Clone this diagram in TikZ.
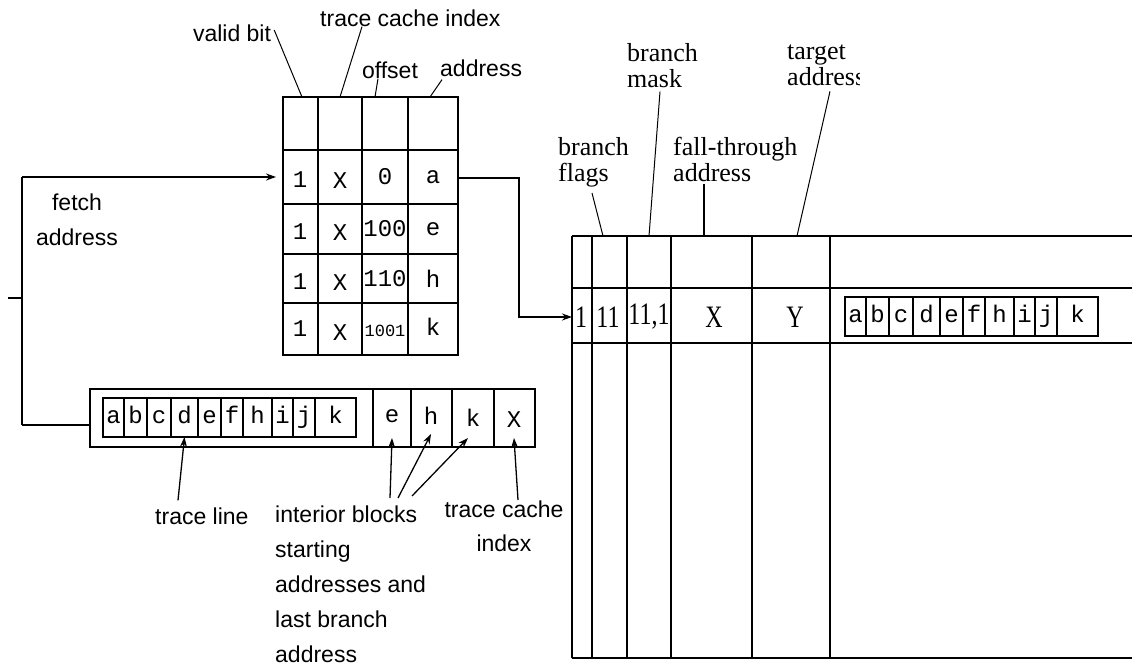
\documentclass[tikz,border=0pt]{standalone}
\usepackage{fontspec}
\setmainfont{Liberation Serif}
\setsansfont{Liberation Sans}
\setmonofont{Liberation Mono}
\usetikzlibrary{arrows.meta,positioning,calc}

\tikzset{
  tab/.style={line width=1.8pt},
  conn/.style={line width=1.3pt},
  leader/.style={line width=1pt},
  tlcell/.style={draw, line width=1.2pt, inner sep=0pt, outer sep=0pt, minimum height=39pt,
    font=\ttfamily\fontsize{24}{24}\selectfont, text height=15pt, text depth=4pt},
  cell/.style={font=\ttfamily\fontsize{24}{24}\selectfont, inner sep=0pt},
  num/.style={font=\rmfamily\fontsize{24}{24}\selectfont, inner sep=0pt},
  sanslbl/.style={font=\sffamily\fontsize{23}{35}\selectfont, inner sep=0pt},
  serlbl/.style={font=\rmfamily\fontsize{26}{26}\selectfont, inner sep=0pt, align=left, anchor=north west},
}

\begin{document}
\begin{tikzpicture}[x=1pt, y=-1pt, >={Stealth[length=10pt,width=7pt]}]
    \useasboundingbox (0,0) rectangle (1132,668);

    % trace cache index table
    \draw[tab] (283,97) rectangle (458,355);
    \foreach \x in {318,362,408} \draw[tab] (\x,97) -- (\x,355);
    \foreach \y in {150,204,254,303} \draw[tab] (283,\y) -- (458,\y);
    \foreach \r/\y/\o/\ad in {1/177/0/a, 2/229/100/e, 3/279/110/h} {
      \node[cell] (vb\r) at (300,\y+3) {1};
      \node[cell] (ix\r) at (340,\y+4) {X};
      \node[cell] (of\r) at (385,\y) {\o};
      \node[cell] (ad\r) at (433,\y) {\ad};
    }
    \node[cell] (vb4) at (300,329) {1};
    \node[cell] (ix4) at (340,333) {X};
    \node[cell, font=\ttfamily\fontsize{17}{17}\selectfont] (of4) at (385,331) {1001};
    \node[cell] (ad4) at (433,327) {k};

    \node[sanslbl] (vbit) at (232,33) {valid bit};
    \node[sanslbl, anchor=west] (tci) at (320,18) {trace cache index};
    \node[sanslbl] (offs) at (390,70) {offset};
    \node[sanslbl, anchor=west] (addr) at (440,68) {address};

    \coordinate (vb-top) at (302,97);
    \coordinate (ix-top) at (340,97);
    \coordinate (of-top) at (375,97);
    \coordinate (ad-top) at (430,97);
    \draw[leader] ([xshift=3pt,yshift=3pt]vbit.east) -- (vb-top);
    \draw[leader] ([xshift=42pt]tci.south west) -- (ix-top);
    \draw[leader] ([xshift=-12pt]offs.south) -- (of-top);
    \draw[leader] ([xshift=2pt,yshift=-3pt]addr.south west) -- (ad-top);

    % fetch address lines
    \coordinate (in) at (8,298);
    \coordinate (fa-j) at (22,298);
    \coordinate (fa-t) at (22,177);
    \coordinate (fa-b) at (22,425);
    \coordinate (tab-w) at (276,177);
    \draw[tab] (in) -- (fa-j);
    \draw[tab] (fa-t) -- (fa-b);
    \draw[tab,->] (fa-t) -- (tab-w);
    \node[sanslbl, align=center, anchor=north] (fetch) at (77,194) {fetch\\address};

    % trace cache line entry
    \node[draw, tab, inner sep=0pt, outer sep=0pt, minimum width=445pt, minimum height=58pt,
      anchor=north west] (blk) at (90,389) {};
    \draw[tab] (fa-b) -- (fa-b -| blk.west);
    \foreach \x in {373,411,452,494} \draw[tab] (\x,389) -- (\x,447);
    \node[cell] (ie) at (392,416) {e};
    \node[cell] (ih) at (431,416) {h};
    \node[cell] (ik) at (473,418) {k};
    \node[cell] (tx) at (514,420) {X};

    \node[tlcell, minimum width=21pt, anchor=north west] (bl-a) at (103,398) {a};
    \foreach \l/\p/\w in {b/a/23, c/b/24, d/c/27, e/d/23, f/e/22, h/f/29, i/h/21, j/i/22, k/j/41}
      \node[tlcell, minimum width=\w pt, right=0pt of bl-\p] (bl-\l) {\l};

    \node[sanslbl, anchor=west] (tline) at (155,516) {trace line};
    \node[sanslbl, align=left, anchor=north west] (iblk) at (275,506)
      {interior blocks\\starting\\addresses and\\last branch\\address};
    \node[sanslbl, align=center, anchor=north, font=\sffamily\fontsize{23}{34}\selectfont]
      (tcix) at (504,501) {trace cache\\index};

    \draw[conn,->] ([xshift=23pt,yshift=7pt]tline.north west) -- (bl-d.south);
    \draw[conn,->] ([xshift=115pt,yshift=8pt]iblk.north west) -- ([yshift=-22pt]ie.center);
    \draw[conn,->] ([xshift=123pt,yshift=8pt]iblk.north west) -- ([yshift=-18pt]ih.center);
    \draw[conn,->] ([xshift=137pt,yshift=10pt]iblk.north west) -- ([xshift=-5pt,yshift=-20pt]ik.center);
    \draw[conn,->] ([xshift=14pt,yshift=1pt]tcix.north) -- ([yshift=-18pt]tx.center);

    % trace cache
    \foreach \x in {572,592,627,671,752,830} \draw[tab] (\x,236) -- (\x,658);
    \foreach \y in {236,288,343,658} \draw[tab] (572,\y) -- (1132,\y);
    \node[num] (flg) at (581,317) {\scalebox{1}[1.3]{1}};
    \node[num] (msk) at (608,317) {\scalebox{1}[1.3]{11}};
    \node[num] (msk2) at (649,317) {\scalebox{1}[1.3]{11,1}};
    \node[num] (fal) at (714,317) {\scalebox{1}[1.3]{X}};
    \node[num] (tgt) at (795,317) {\scalebox{1}[1.3]{Y}};

    \node[tlcell, minimum width=21pt, anchor=north west] (rl-a) at (845,297) {a};
    \foreach \l/\p/\w in {b/a/23, c/b/24, d/c/27, e/d/23, f/e/22, h/f/29, i/h/21, j/i/22, k/j/41}
      \node[tlcell, minimum width=\w pt, right=0pt of rl-\p] (rl-\l) {\l};

    \coordinate (rt-in) at (572,317);
    \coordinate (ad-out) at (458,178);
    \coordinate (bend) at (519,178);
    \draw[tab,->] (ad-out) -- (bend) |- (rt-in);

    \node[serlbl] (bflags) at (558,137) {branch\\flags};
    \node[serlbl] (bmask) at (627,43) {branch\\mask};
    \node[serlbl] (fthru) at (673,137) {fall-through\\address};
    \begin{scope}
      \clip (780,30) rectangle (859,110);
      \node[serlbl] (taddr) at (787,45) {target\\address};
    \end{scope}

    \coordinate (bf-top) at (603,236);
    \coordinate (bm-top) at (649,236);
    \coordinate (ft-top) at (704,236);
    \coordinate (ta-top) at (797,236);
    \draw[leader] ([xshift=34pt,yshift=-6pt]bflags.south west) -- (bf-top);
    \draw[leader] ([xshift=33pt,yshift=-4pt]bmask.south west) -- (bm-top);
    \draw[tab] ([xshift=31pt,yshift=-2pt]fthru.south west) -- (ft-top);
    \draw[leader] ([xshift=43pt,yshift=-5pt]taddr.south west) -- (ta-top);
  \end{tikzpicture}
\end{document}
